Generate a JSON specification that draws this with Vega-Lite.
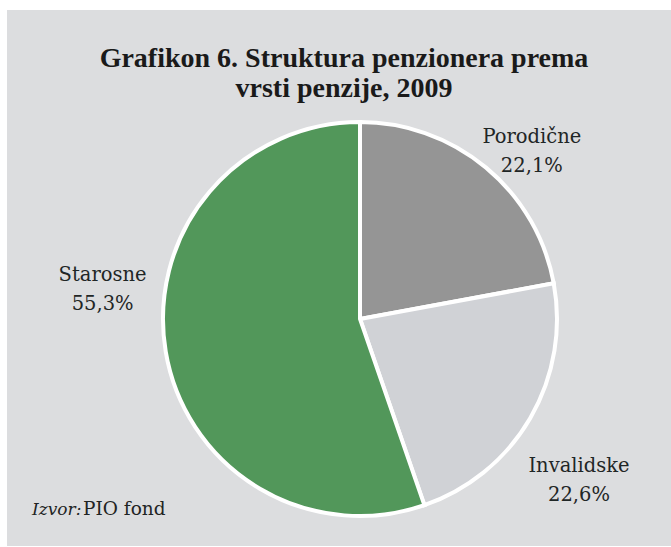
{
  "$schema": "https://vega.github.io/schema/vega-lite/v6.json",
  "background": "white",
  "padding": {"left": 7, "top": 10, "right": 0, "bottom": 1},
  "config": {"view": {"stroke": null}, "concat": {"spacing": 0}},
  "title": {
    "text": ["Grafikon 6. Struktura penzionera prema", "vrsti penzije, 2009"],
    "font": "Liberation Serif",
    "fontSize": 28,
    "fontWeight": "bold",
    "color": "#1a1a1a",
    "lineHeight": 30,
    "anchor": "middle",
    "baseline": "top",
    "dx": 5,
    "offset": -93
  },
  "vconcat": [
    {
      "title": {
        "text": "PIO fond",
        "orient": "bottom",
        "anchor": "start",
        "font": "DejaVu Serif",
        "fontSize": 18.5,
        "fontWeight": "normal",
        "color": "#1f2424",
        "baseline": "alphabetic",
        "dx": 76,
        "offset": -31
      },
      "vconcat": [
        {
          "width": 664,
          "height": 536,
          "view": {"fill": "#dcdddf", "stroke": null},
          "title": {
            "text": "Izvor:",
            "orient": "bottom",
            "anchor": "start",
            "font": "DejaVu Serif",
            "fontSize": 17,
            "fontStyle": "italic",
            "fontWeight": "normal",
            "color": "#1f2424",
            "baseline": "alphabetic",
            "dx": 25,
            "offset": -31
          },
          "data": {
            "values": [
              {"vrsta": "Porodične", "udio": 22.1},
              {"vrsta": "Invalidske", "udio": 22.6},
              {"vrsta": "Starosne", "udio": 55.3}
            ]
          },
          "transform": [
            {"stack": "udio", "groupby": [], "sort": [{"field": "udio", "order": "ascending"}], "as": ["u0", "u1"]},
            {"calculate": "(datum.u0 + datum.u1) / 2", "as": "mid"},
            {"calculate": "datum.vrsta + '\\n' + replace(format(datum.udio, '.1f'), '.', ',') + '%'", "as": "label"}
          ],
          "layer": [
            {
              "mark": {"type": "arc", "outerRadius": 197, "stroke": "white", "strokeWidth": 4, "xOffset": 21, "yOffset": 41},
              "encoding": {
                "theta": {"field": "u0", "type": "quantitative", "scale": {"domain": [0, 100]}},
                "theta2": {"field": "u1"},
                "color": {
                  "field": "vrsta",
                  "type": "nominal",
                  "scale": {"domain": ["Porodične", "Invalidske", "Starosne"], "range": ["#959595", "#d0d2d6", "#52975a"]},
                  "legend": null
                }
              }
            },
            {
              "transform": [{"filter": "datum.vrsta === 'Porodične'"}],
              "mark": {"type": "text", "font": "DejaVu Serif", "fontSize": 19.5, "color": "#1f2626", "lineBreak": "\n", "lineHeight": 29, "align": "center", "baseline": "middle", "radius": 242, "xOffset": 21, "yOffset": 41, "dx": 17, "dy": 4},
              "encoding": {
                "theta": {"field": "mid", "type": "quantitative", "scale": {"domain": [0, 100]}},
                "text": {"field": "label", "type": "nominal"}
              }
            },
            {
              "transform": [{"filter": "datum.vrsta === 'Invalidske'"}],
              "mark": {"type": "text", "font": "DejaVu Serif", "fontSize": 19.5, "color": "#1f2626", "lineBreak": "\n", "lineHeight": 29, "align": "center", "baseline": "middle", "radius": 272, "xOffset": 21, "yOffset": 41, "dx": -16, "dy": 10},
              "encoding": {
                "theta": {"field": "mid", "type": "quantitative", "scale": {"domain": [0, 100]}},
                "text": {"field": "label", "type": "nominal"}
              }
            },
            {
              "transform": [{"filter": "datum.vrsta === 'Starosne'"}],
              "mark": {"type": "text", "font": "DejaVu Serif", "fontSize": 19.5, "color": "#1f2626", "lineBreak": "\n", "lineHeight": 29, "align": "center", "baseline": "middle", "radius": 260, "xOffset": 21, "yOffset": 41, "dx": -1, "dy": -87},
              "encoding": {
                "theta": {"field": "mid", "type": "quantitative", "scale": {"domain": [0, 100]}},
                "text": {"field": "label", "type": "nominal"}
              }
            }
          ]
        }
      ]
    }
  ]
}
